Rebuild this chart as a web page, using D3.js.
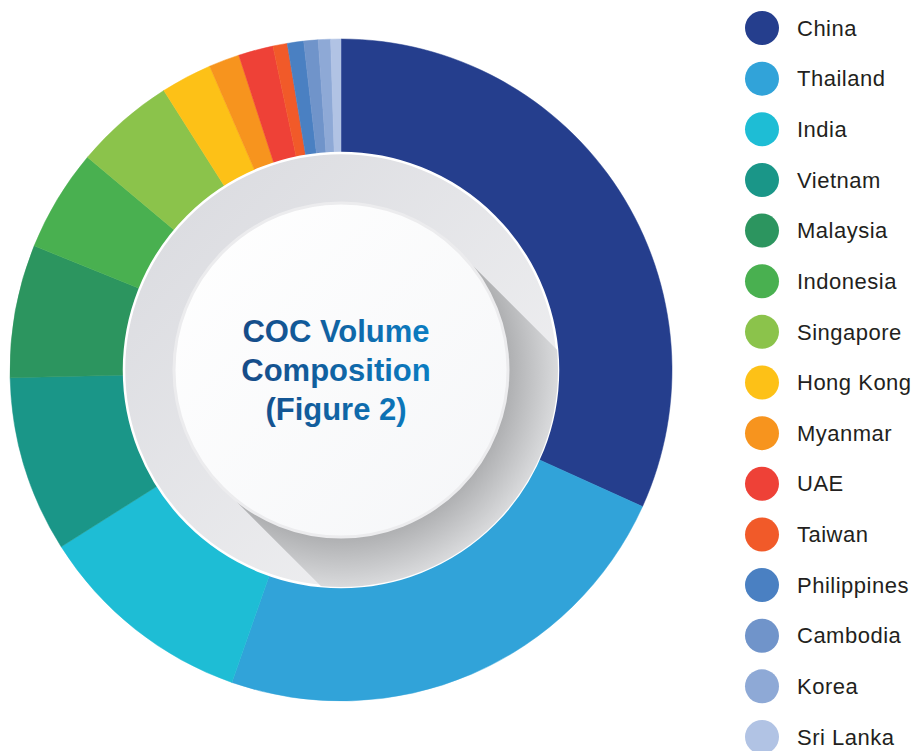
<!DOCTYPE html>
<html lang="en">
<head>
  <meta charset="UTF-8">
  <title>COC Volume Composition</title>
  <style>
    body {
      margin: 0;
      padding: 0;
      background: #fff;
      font-family: "Liberation Sans", Arial, sans-serif;
    }
    .legend-label {
      font-size: 22px;
      letter-spacing: 0.5px;
      fill: #231f20;
    }
    .title-line {
      font-size: 31px;
      font-weight: bold;
    }
  </style>
</head>
<body>
  <svg id="chart" width="917" height="751"></svg>
  <script src="https://d3js.org/d3.v7.min.js"></script>
  <script>
    // data (share of volume, %)
    const countries = ['China', 'Thailand', 'India', 'Vietnam', 'Malaysia', 'Indonesia', 'Singapore',
      'Hong Kong', 'Myanmar', 'UAE', 'Taiwan', 'Philippines', 'Cambodia', 'Korea', 'Sri Lanka'];
    const shares = [31.8, 23.6, 10.7, 8.6, 6.5, 5.0, 4.9, 2.5, 1.5, 1.7, 0.7, 0.8, 0.7, 0.6, 0.5];
    const colors = ['#253e8d', '#31a3d9', '#1ebdd5', '#1a9688', '#2c955f', '#49b050', '#8bc34b',
      '#fdc117', '#f7941e', '#ee4137', '#f15a29', '#4a80c2', '#7094ca', '#8ea9d6', '#b1c3e4'];
    const titleLines = ['COC Volume', 'Composition', '(Figure 2)'];

    const svg = d3.select('#chart');
    const cx = 341, cy = 370;
    const outerR = 331, ringR = 217, faceR = 167;

    const data = countries.map((c, i) => ({ country: c, share: shares[i], color: colors[i] }));

    const defs = svg.append('defs');

    const diskGrad = defs.append('linearGradient')
      .attr('id', 'diskGrad')
      .attr('x1', '0%').attr('y1', '0%')
      .attr('x2', '100%').attr('y2', '100%');
    diskGrad.append('stop').attr('offset', '0%').attr('stop-color', '#d8d9de');
    diskGrad.append('stop').attr('offset', '100%').attr('stop-color', '#f4f4f5');

    const shadowGrad = defs.append('radialGradient')
      .attr('id', 'shadowGrad')
      .attr('gradientUnits', 'userSpaceOnUse')
      .attr('cx', cx).attr('cy', cy).attr('r', ringR);
    shadowGrad.append('stop').attr('offset', faceR / ringR).attr('stop-color', '#aeafb1');
    shadowGrad.append('stop').attr('offset', '100%').attr('stop-color', '#d9dadc');

    const faceGrad = defs.append('linearGradient')
      .attr('id', 'faceGrad')
      .attr('x1', '0%').attr('y1', '0%')
      .attr('x2', '100%').attr('y2', '100%');
    faceGrad.append('stop').attr('offset', '0%').attr('stop-color', '#ffffff');
    faceGrad.append('stop').attr('offset', '100%').attr('stop-color', '#f5f6f8');

    // one gradient across the whole title block
    const titleGrad = defs.append('linearGradient')
      .attr('id', 'titleGrad')
      .attr('gradientUnits', 'userSpaceOnUse')
      .attr('x1', 240).attr('y1', 0)
      .attr('x2', 434).attr('y2', 0);
    titleGrad.append('stop').attr('offset', '0%').attr('stop-color', '#164a86');
    titleGrad.append('stop').attr('offset', '100%').attr('stop-color', '#0a7ec3');

    defs.append('clipPath').attr('id', 'diskClip')
      .append('circle').attr('cx', cx).attr('cy', cy).attr('r', ringR);

    // donut
    const pie = d3.pie().sort(null).value(d => d.share);
    const arc = d3.arc().innerRadius(ringR - 5).outerRadius(outerR);

    const g = svg.append('g').attr('transform', `translate(${cx},${cy})`);
    g.selectAll('path.slice')
      .data(pie(data))
      .enter().append('path')
        .attr('class', 'slice')
        .attr('d', arc)
        .attr('fill', d => d.data.color)
        .attr('stroke', d => d.data.color)
        .attr('stroke-width', 0.5);

    // grey plate
    svg.append('circle')
      .attr('cx', cx).attr('cy', cy).attr('r', ringR)
      .attr('fill', 'url(#diskGrad)')
      .attr('stroke', '#fff')
      .attr('stroke-width', 2.5);

    // long shadow at 45 degrees
    const s = Math.SQRT1_2, L = 400;
    const t1 = [cx + faceR * s, cy - faceR * s];
    const t2 = [cx - faceR * s, cy + faceR * s];
    const shadowPath = d3.path();
    shadowPath.moveTo(t1[0], t1[1]);
    shadowPath.lineTo(t1[0] + L, t1[1] + L);
    shadowPath.lineTo(t2[0] + L, t2[1] + L);
    shadowPath.lineTo(t2[0], t2[1]);
    shadowPath.closePath();
    svg.append('path')
      .attr('d', shadowPath.toString())
      .attr('fill', 'url(#shadowGrad)')
      .attr('clip-path', 'url(#diskClip)');

    // white face
    svg.append('circle')
      .attr('cx', cx).attr('cy', cy).attr('r', faceR)
      .attr('fill', 'url(#faceGrad)')
      .attr('stroke', '#ececee')
      .attr('stroke-width', 3);

    // centre title
    svg.append('g')
      .selectAll('text')
      .data(titleLines)
      .enter().append('text')
        .attr('class', 'title-line')
        .attr('x', 336)
        .attr('y', (d, i) => 342 + i * 39)
        .attr('text-anchor', 'middle')
        .attr('fill', 'url(#titleGrad)')
        .text(d => d);

    // legend
    const legendY = d3.scalePoint()
      .domain(countries)
      .range([28, 737]);

    const legend = svg.append('g');
    const items = legend.selectAll('g.item')
      .data(data)
      .enter().append('g')
        .attr('class', 'item')
        .attr('transform', d => `translate(762,${legendY(d.country)})`);

    items.append('circle')
      .attr('r', 17)
      .attr('fill', d => d.color);

    items.append('text')
      .attr('class', 'legend-label')
      .attr('x', 35)
      .attr('dy', '0.35em')
      .text(d => d.country);
  </script>
</body>
</html>
